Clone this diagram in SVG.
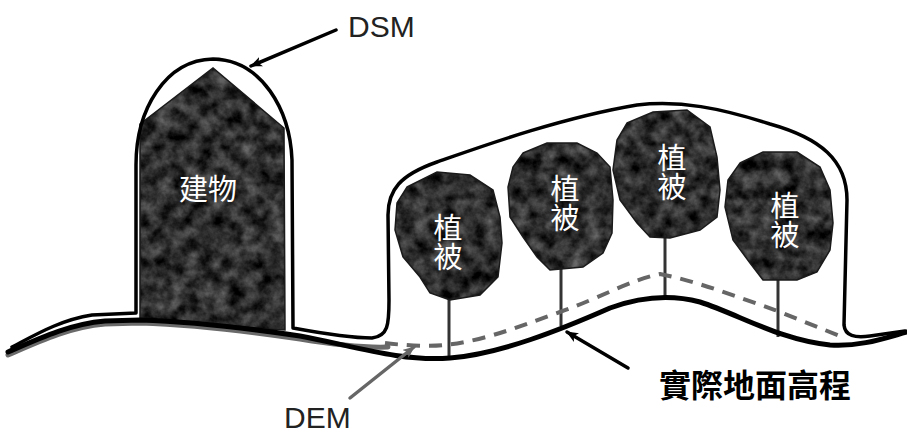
<svg xmlns="http://www.w3.org/2000/svg" xmlns:xlink="http://www.w3.org/1999/xlink" width="907" height="443" viewBox="0 0 907 443">
  <style>
    .ground { fill: none; stroke: #000; stroke-width: 5; stroke-linecap: round; stroke-linejoin: round; }
    .dem-under { fill: none; stroke: #6a6a6a; stroke-width: 5; stroke-linecap: round; }
    .dem { fill: none; stroke: #666; stroke-width: 4; stroke-dasharray: 13 9; }
    .dsm { fill: none; stroke: #000; stroke-width: 3.5; stroke-linejoin: round; stroke-linecap: round; }
    .stem { stroke: #333; stroke-width: 3; }
    .mass { fill: #000; filter: url(#stone); }
    .edge { fill: none; stroke: #1a1a1a; stroke-width: 1.5; }
    .inner { font-family: "Noto Sans CJK TC", "Noto Sans CJK SC", sans-serif; font-size: 29px; fill: #fff; }
    .vert { writing-mode: vertical-rl; text-orientation: upright; }
    .latin { font-family: "Liberation Sans", Arial, sans-serif; font-size: 30px; fill: #222; }
    .ptr { fill: none; stroke: #000; stroke-width: 3.5; stroke-linecap: round; }
    .ptr-gray { fill: none; stroke: #666; stroke-width: 3.5; stroke-linecap: round; }
  </style>
  <defs>
    <!-- mottled dark stone texture for the building and tree crowns -->
    <filter id="stone" x="0" y="0" width="1" height="1" color-interpolation-filters="sRGB">
      <feTurbulence type="fractalNoise" baseFrequency="0.07" numOctaves="4" seed="7" result="noise"/>
      <feColorMatrix in="noise" type="matrix" values="0.6 0 0 0 -0.12  0.6 0 0 0 -0.12  0.6 0 0 0 -0.12  0 0 0 0 1" result="shade"/>
      <feComposite in="shade" in2="SourceGraphic" operator="in"/>
    </filter>
    <marker id="head" viewBox="0 0 12 10" refX="11" refY="5" markerWidth="12" markerHeight="10" markerUnits="userSpaceOnUse" orient="auto">
      <path d="M0,0 L12,5 L0,10 L3,5 z" fill="#000"/>
    </marker>
    <marker id="head-gray" viewBox="0 0 12 10" refX="11" refY="5" markerWidth="12" markerHeight="10" markerUnits="userSpaceOnUse" orient="auto">
      <path d="M0,0 L12,5 L0,10 L3,5 z" fill="#666"/>
    </marker>
  </defs>

  <rect width="907" height="443" fill="#fff"/>

  <!-- building -->
  <g id="building">
    <polygon class="mass" points="140,124 213,68 284,128 285,330 140,322"/>
    <polygon class="edge" points="140,124 213,68 284,128 285,330 140,322"/>
    <text class="inner" x="208" y="200" text-anchor="middle">建物</text>
  </g>

  <!-- vegetation -->
  <g id="tree1">
    <line class="stem" x1="449" y1="298" x2="449" y2="356"/>
    <polygon class="mass" points="407,187 437,172 470,175 493,190 500,217 502,243 498,277 480,295 450,300 430,293 420,277 403,257 395,230 397,203"/>
    <polygon class="edge" points="407,187 437,172 470,175 493,190 500,217 502,243 498,277 480,295 450,300 430,293 420,277 403,257 395,230 397,203"/>
    <text class="inner vert" x="448" y="213">植被</text>
  </g>
  <g id="tree2">
    <line class="stem" x1="561" y1="268" x2="561" y2="326"/>
    <polygon class="mass" points="523,153 547,143 577,143 597,153 610,167 613,200 612,233 603,253 583,267 550,270 537,257 523,237 510,217 508,187 513,167"/>
    <polygon class="edge" points="523,153 547,143 577,143 597,153 610,167 613,200 612,233 603,253 583,267 550,270 537,257 523,237 510,217 508,187 513,167"/>
    <text class="inner vert" x="565" y="174">植被</text>
  </g>
  <g id="tree3">
    <line class="stem" x1="665" y1="236" x2="665" y2="296"/>
    <polygon class="mass" points="627,123 653,112 687,110 710,127 717,157 720,190 717,217 700,230 670,238 650,237 637,223 620,200 613,170 617,140"/>
    <polygon class="edge" points="627,123 653,112 687,110 710,127 717,157 720,190 717,217 700,230 670,238 650,237 637,223 620,200 613,170 617,140"/>
    <text class="inner vert" x="672" y="143">植被</text>
  </g>
  <g id="tree4">
    <line class="stem" x1="778" y1="278" x2="778" y2="337"/>
    <polygon class="mass" points="740,163 763,152 797,152 820,167 830,190 833,223 830,250 817,272 797,280 763,280 750,263 733,240 725,207 728,180"/>
    <polygon class="edge" points="740,163 763,152 797,152 820,167 830,190 833,223 830,250 817,272 797,280 763,280 750,263 733,240 725,207 728,180"/>
    <text class="inner vert" x="785" y="191">植被</text>
  </g>

  <!-- surface and terrain lines -->
  <g id="surfaces">
    <path class="dem-under" d="M 8 355 C 40 341, 70 327, 105 324 L 140 323 C 200 325, 260 333, 300 339 C 330 344, 360 348, 388 347"/>
    <path class="dem" d="M 385 343 C 400 345, 430 347, 445 345 C 490 340, 530 322, 560 312 C 600 298, 630 280, 660 274 C 700 282, 740 298, 775 310 C 800 320, 825 330, 842 337"/>
    <path class="ground" d="M 8 352 C 40 338, 70 324, 105 321 L 140 320 C 200 322, 260 330, 300 336 C 350 345, 400 362, 450 358 C 500 354, 560 330, 610 308 C 640 297, 670 294, 700 302 C 740 315, 780 340, 830 345 C 860 347, 885 338, 907 332"/>
    <path class="dsm" d="M 12 347 C 35 335, 60 320, 92 315 L 136 313 L 136 165 C 136 110, 165 60, 213 59 C 262 60, 290 110, 292 160 L 293 328 C 320 333, 350 338, 372 338 C 388 336, 389 325, 389 300 L 388 215 C 388 190, 400 175, 437 162 C 480 147, 560 118, 637 105 C 680 100, 720 108, 770 124 C 820 138, 847 160, 847 200 L 844 325 C 845 336, 855 338, 870 336 L 905 331"/>
  </g>

  <!-- labels and pointers -->
  <g id="connectors">
    <line class="ptr" x1="336" y1="30" x2="251" y2="66" marker-end="url(#head)"/>
    <line class="ptr" x1="628" y1="368" x2="567" y2="332" marker-end="url(#head)"/>
    <line class="ptr-gray" x1="350" y1="398" x2="414" y2="347" marker-end="url(#head-gray)"/>
  </g>
  <g id="label-dsm">
    <text class="latin" x="348" y="37">DSM</text>
  </g>
  <g id="label-dem">
    <text class="latin" x="284" y="428" fill="#333">DEM</text>
  </g>
  <g id="label-ground">
    <text x="659" y="397" font-family="Noto Sans CJK TC, Noto Sans CJK SC, sans-serif" font-size="32" font-weight="700" fill="#000">實際地面高程</text>
  </g>
</svg>
